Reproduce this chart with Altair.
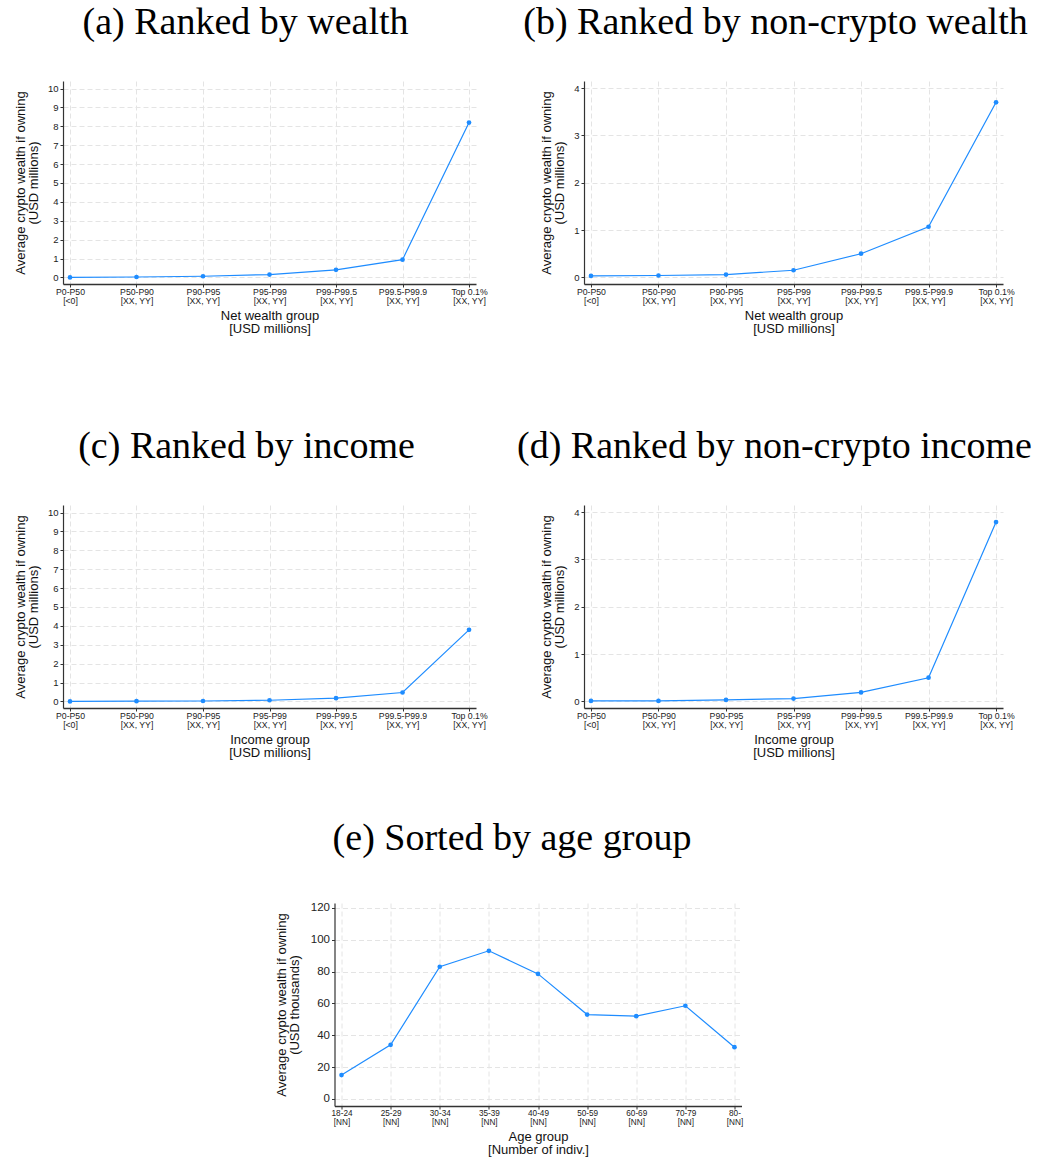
import altair as alt
import pandas as pd

# ---- data ----
pct_cats = ["P0-P50", "P50-P90", "P90-P95", "P95-P99", "P99-P99.5", "P99.5-P99.9", "Top 0.1%"]
pct_sub = ["[<0]", "[XX, YY]", "[XX, YY]", "[XX, YY]", "[XX, YY]", "[XX, YY]", "[XX, YY]"]

wealth_vals = [0.0, 0.02, 0.06, 0.15, 0.40, 0.94, 8.2]
noncrypto_wealth_vals = [0.03, 0.04, 0.06, 0.15, 0.50, 1.07, 3.70]
income_vals = [0.0, 0.01, 0.02, 0.06, 0.17, 0.47, 3.79]
noncrypto_income_vals = [0.01, 0.01, 0.03, 0.06, 0.19, 0.50, 3.79]

age_cats = ["18-24", "25-29", "30-34", "35-39", "40-49", "50-59", "60-69", "70-79", "80-"]
age_sub = ["[NN]"] * 9
age_vals = [15, 34, 83, 93, 78.5, 53, 52, 58.5, 32.5]

BLUE = "#1e8cff"


def panel(cats, subs, vals, title, xtitle, ytitle, ydomain, yticks, w, h, pad,
          ylab_size=9.5, xlab_size=8.7, ytpad=7, tdx=-22, toff=39, right_ext=None):
    keys = [f"{c}|{s}" for c, s in zip(cats, subs)]
    df = pd.DataFrame({"k": keys, "v": vals})
    x = alt.X("k:O", sort=keys, title=xtitle,
              scale=alt.Scale(type="point", padding=pad),
              axis=alt.Axis(labelExpr="split(datum.value, '|')", labelAngle=0,
                            labelFontSize=xlab_size, labelLineHeight=9,
                            labelPadding=0, titlePadding=5))
    yscale = alt.Scale(domain=ydomain, nice=False, zero=False)
    y = alt.Y("v:Q", title=ytitle, scale=yscale,
              axis=alt.Axis(values=yticks, labelFontSize=ylab_size, titlePadding=ytpad))
    line = alt.Chart(df).mark_line(color=BLUE, strokeWidth=1.2).encode(x=x, y=y)
    if right_ext is None:
        pts = alt.Chart(df).mark_circle(color=BLUE, size=22, opacity=1).encode(x=x, y=y)
        layer = line + pts
    else:
        # blank right-hand axis (no labels/ticks/line) only reserves space on the right
        y2 = alt.Y("v:Q", title=" ", scale=yscale,
                   axis=alt.Axis(orient="right", labels=False, ticks=False, domain=False,
                                 grid=False, titlePadding=right_ext))
        pts = alt.Chart(df).mark_circle(color=BLUE, size=22, opacity=1).encode(x=x, y=y2)
        layer = alt.layer(line, pts).resolve_scale(y="independent")
    return layer.properties(
        width=w, height=h,
        title=alt.TitleParams(title, font="Liberation Serif", fontSize=38,
                              fontWeight="normal", color="black", offset=toff, dx=tdx))


ymil = ["Average crypto wealth if owning", "(USD millions)"]

a = panel(pct_cats, pct_sub, wealth_vals, "(a) Ranked by wealth",
          ["Net wealth group", "[USD millions]"], ymil,
          [-0.35, 10.4], list(range(0, 11)), 413, 203, 0.105, tdx=-24)
b = panel(pct_cats, pct_sub, noncrypto_wealth_vals, "(b) Ranked by non-crypto wealth",
          ["Net wealth group", "[USD millions]"], ymil,
          [-0.14, 4.15], list(range(0, 5)), 419, 203, 0.103, tdx=-18)
c = panel(pct_cats, pct_sub, income_vals, "(c) Ranked by income",
          ["Income group", "[USD millions]"], ymil,
          [-0.35, 10.4], list(range(0, 11)), 413, 203, 0.105, tdx=-23)
d = panel(pct_cats, pct_sub, noncrypto_income_vals, "(d) Ranked by non-crypto income",
          ["Income group", "[USD millions]"], ymil,
          [-0.14, 4.15], list(range(0, 5)), 419, 203, 0.103, tdx=-19)
e = panel(age_cats, age_sub, age_vals, "(e) Sorted by age group",
          ["Age group", "[Number of indiv.]"],
          ["Average crypto wealth if owning", "(USD thousands)"],
          [-4.4, 123], list(range(0, 121, 20)), 407, 203, 0.143,
          ylab_size=11.5, xlab_size=8.2, ytpad=9, tdx=-26, toff=44, right_ext=6)

row1 = alt.hconcat(a, b, spacing=35)
row2 = alt.hconcat(c, d, spacing=29)
top = alt.vconcat(row1, row2, spacing=92)

chart = alt.vconcat(top, e, spacing=59, center=True).properties(
    padding={"left": 14, "top": 4, "right": 5, "bottom": 0}
).configure_view(stroke=None).configure_axis(
    labelFont="Liberation Sans", titleFont="Liberation Sans",
    labelColor="#222", titleColor="#111", titleFontWeight="normal",
    titleFontSize=13, titleLineHeight=13,
    domainColor="#333", domainWidth=1.2, tickColor="#333", tickSize=3, tickWidth=1,
    gridColor="#e4e4e4", gridDash=[5, 3], gridWidth=1, grid=True,
).configure_axisX(domainWidth=1.5)

chart.save("out.html", embed_options={"renderer": "svg", "actions": False})
